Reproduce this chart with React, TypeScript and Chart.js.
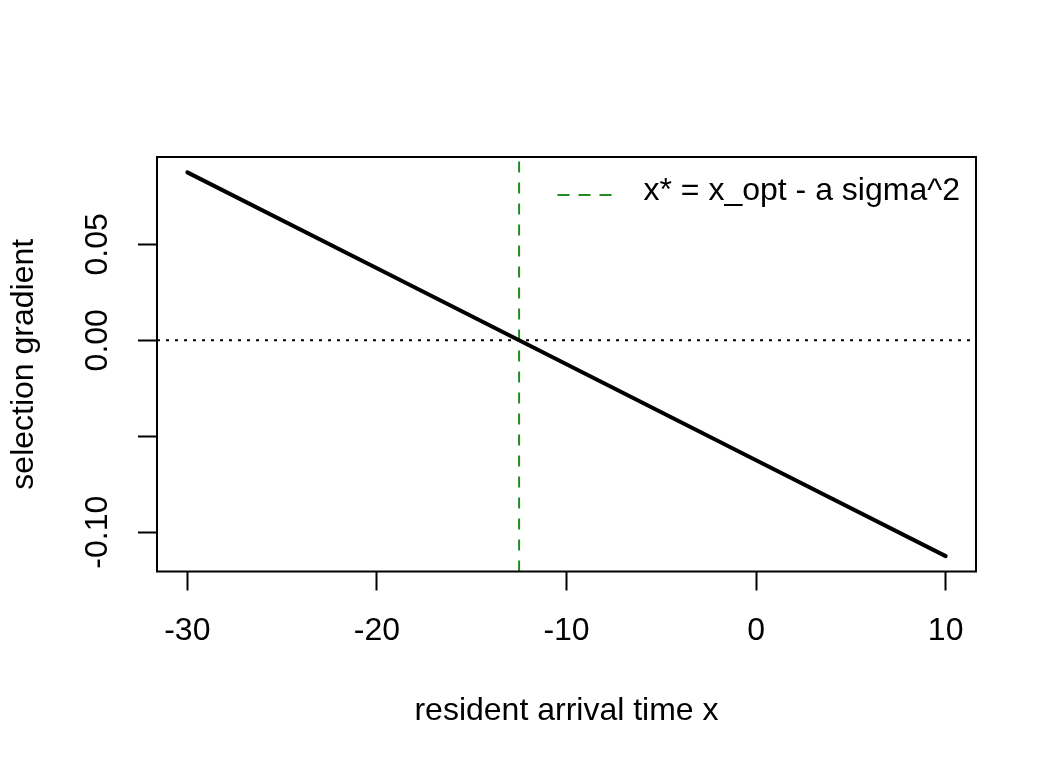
import { useEffect, useRef } from 'react';
import { Chart, registerables, type ChartConfiguration } from 'chart.js';

Chart.register(...registerables);

const arrivalTimes = [-30, -20, -10, 0, 10];
const gradientValues = [0.0875, 0.0375, -0.0125, -0.0625, -0.1125];
const xTicks = [-30, -20, -10, 0, 10];
const yTicks = [-0.1, -0.05, 0, 0.05];
const yTickLabels = ['-0.10', '', '0.00', '0.05'];
const xStar = -12.5;
const legendLabel = 'x* = x_opt - a sigma^2';

const FONT = "'Liberation Sans', Arial, Helvetica, sans-serif";
const FONT_SIZE = 32;
const GREEN = '#228B22';

export default function App() {
  const chartRef = useRef<HTMLCanvasElement>(null);
  const chartInstanceRef = useRef<Chart | null>(null);

  useEffect(() => {
    document.body.style.margin = '0';
    if (chartInstanceRef.current) {
      chartInstanceRef.current.destroy();
    }
    const canvas = chartRef.current;
    if (!canvas) {
      return;
    }

    // box, reference lines and the legend, drawn the way R's base graphics does
    const basePlotPlugin = {
      id: 'basePlot',
      beforeDatasetsDraw(chart: Chart) {
        const { ctx, chartArea, scales } = chart;
        const zeroY = scales.y.getPixelForValue(0);
        const starX = scales.x.getPixelForValue(xStar);

        ctx.save();
        ctx.beginPath();
        ctx.rect(chartArea.left, chartArea.top, chartArea.right - chartArea.left, chartArea.bottom - chartArea.top);
        ctx.clip();

        ctx.strokeStyle = '#000';
        ctx.lineWidth = 2;
        ctx.setLineDash([3, 6]);
        ctx.beginPath();
        ctx.moveTo(chartArea.left, zeroY);
        ctx.lineTo(chartArea.right, zeroY);
        ctx.stroke();

        ctx.strokeStyle = GREEN;
        ctx.setLineDash([11, 10]);
        ctx.beginPath();
        ctx.moveTo(starX, chartArea.bottom);
        ctx.lineTo(starX, chartArea.top);
        ctx.stroke();
        ctx.restore();
      },
      afterDraw(chart: Chart) {
        const { ctx, chartArea } = chart;
        ctx.save();
        ctx.strokeStyle = '#000';
        ctx.lineWidth = 2;
        ctx.strokeRect(chartArea.left, chartArea.top, chartArea.right - chartArea.left, chartArea.bottom - chartArea.top);

        ctx.font = `${FONT_SIZE}px ${FONT}`;
        ctx.fillStyle = '#000';
        ctx.textBaseline = 'alphabetic';
        ctx.textAlign = 'left';
        const textW = ctx.measureText(legendLabel).width;
        const textX = chartArea.right - 16 - textW;
        ctx.fillText(legendLabel, textX, chartArea.top + 43);

        ctx.strokeStyle = GREEN;
        ctx.lineWidth = 2;
        ctx.setLineDash([12, 9]);
        ctx.beginPath();
        ctx.moveTo(textX - 86, chartArea.top + 38);
        ctx.lineTo(textX - 31, chartArea.top + 38);
        ctx.stroke();
        ctx.restore();
      }
    };

    const config: ChartConfiguration<'line', { x: number; y: number }[]> = {
      type: 'line',
      data: {
        datasets: [
          {
            data: arrivalTimes.map((x, i) => ({ x, y: gradientValues[i] })),
            borderColor: '#000',
            borderWidth: 4,
            borderCapStyle: 'round',
            pointRadius: 0,
            tension: 0
          }
        ]
      },
      options: {
        responsive: false,
        animation: false,
        layout: {
          padding: { top: 157, right: 80, left: 0, bottom: 0 }
        },
        plugins: {
          legend: { display: false },
          tooltip: { enabled: false }
        },
        scales: {
          x: {
            type: 'linear',
            min: -31.6,
            max: 11.6,
            afterBuildTicks: scale => {
              scale.ticks = xTicks.map(value => ({ value }));
            },
            afterFit: scale => {
              scale.height = 196.5;
            },
            grid: {
              drawOnChartArea: false,
              drawTicks: true,
              tickLength: 19,
              tickWidth: 2,
              tickColor: '#000'
            },
            border: { display: false },
            ticks: {
              autoSkip: false,
              maxRotation: 0,
              padding: 21,
              color: '#000',
              font: { family: FONT, size: FONT_SIZE },
              callback: value => String(value)
            },
            title: {
              display: true,
              text: 'resident arrival time x',
              color: '#000',
              font: { family: FONT, size: FONT_SIZE },
              padding: { top: 0, bottom: 38 }
            }
          },
          y: {
            type: 'linear',
            min: -0.1205,
            max: 0.0955,
            afterBuildTicks: scale => {
              scale.ticks = yTicks.map(value => ({ value }));
            },
            afterFit: scale => {
              scale.width = 157;
            },
            grid: {
              drawOnChartArea: false,
              drawTicks: true,
              tickLength: 19,
              tickWidth: 2,
              tickColor: '#000'
            },
            border: { display: false },
            ticks: {
              autoSkip: false,
              minRotation: 90,
              maxRotation: 90,
              crossAlign: 'center',
              padding: 3,
              color: '#000',
              font: { family: FONT, size: FONT_SIZE },
              callback: (_value, index) => yTickLabels[index]
            },
            title: {
              display: true,
              text: 'selection gradient',
              color: '#000',
              font: { family: FONT, size: FONT_SIZE },
              padding: { top: 5, bottom: 0 }
            }
          }
        }
      },
      plugins: [basePlotPlugin]
    };

    chartInstanceRef.current = new Chart(canvas, config);

    return () => {
      chartInstanceRef.current?.destroy();
    };
  }, []);

  return (
    <div style={{ width: 1056, height: 768, background: '#fff' }}>
      <canvas ref={chartRef} width={1056} height={768} style={{ display: 'block' }} />
    </div>
  );
}
